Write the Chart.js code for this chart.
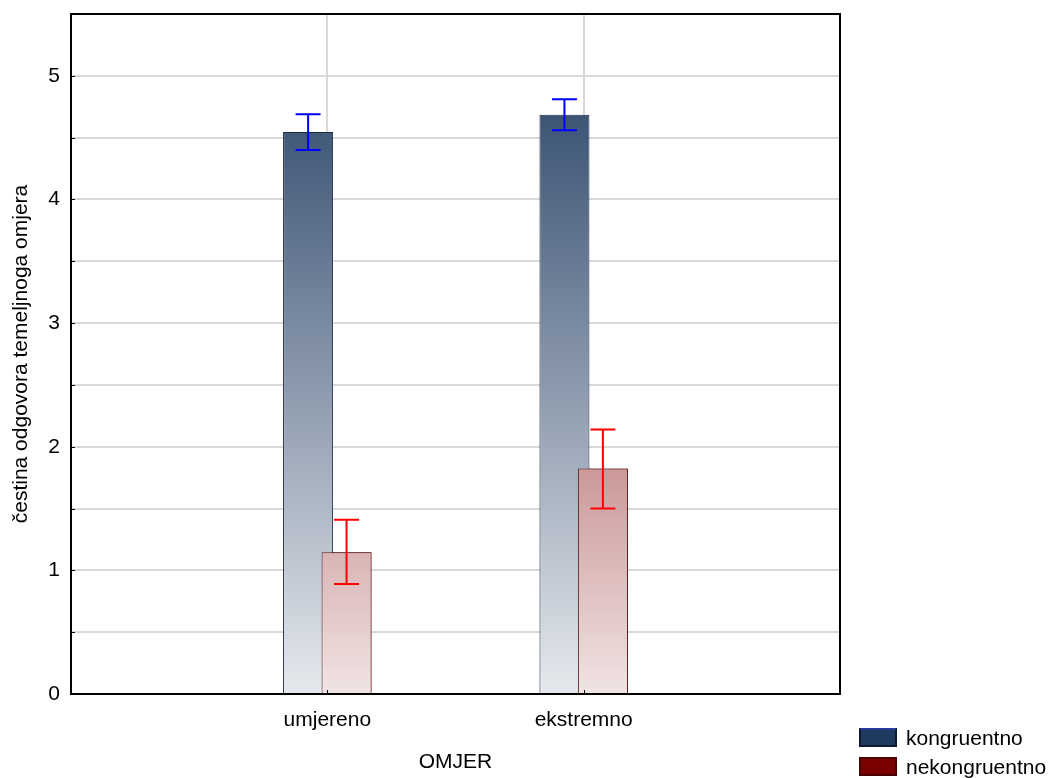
<!DOCTYPE html>
<html>
<head>
<meta charset="utf-8">
<script src="https://cdn.jsdelivr.net/npm/chart.js@4/dist/chart.umd.min.js"></script>
<style>
  html, body { margin: 0; padding: 0; background: #ffffff; }
  #wrap { position: relative; width: 1053px; height: 778px; overflow: hidden; }
  canvas { position: absolute; left: 0; top: 0; }
  .lg { position: absolute; font-family: "Liberation Sans", Arial, sans-serif; font-size: 21px; color: #000; line-height: 24px; white-space: nowrap; }
  .sw { position: absolute; box-sizing: border-box; width: 38px; height: 19px; }
</style>
</head>
<body>
<div id="wrap">
  <canvas id="c" width="1053" height="778"></canvas>
  <div class="sw" style="left:859px;top:728px;background:#1f3a5f;border:2px solid #0c1a33;border-top-color:#2a3a9a;"></div>
  <div class="lg" style="left:906px;top:726px;">kongruentno</div>
  <div class="sw" style="left:859px;top:757px;background:#7a0000;border:2px solid #4a0000;"></div>
  <div class="lg" style="left:906px;top:755px;">nekongruentno</div>
</div>
<script>
// ---- data ----
const categories = ['', 'umjereno', 'ekstremno', ''];
const seriesNames = ['kongruentno', 'nekongruentno'];
const kongruentno = [null, 4.545, 4.685, null];
const nekongruentno = [null, 1.146, 1.823, null];
const kongLow = [null, 4.40, 4.56, null];
const kongHigh = [null, 4.69, 4.81, null];
const nekLow = [null, 0.89, 1.50, null];
const nekHigh = [null, 1.41, 2.14, null];
const yTickLabels = ['0', '1', '2', '3', '4', '5'];
const xTitle = 'OMJER';
const yTitle = 'čestina odgovora temeljnoga omjera';

const FONT = '"Liberation Sans", Arial, sans-serif';

function grad(ctx, bottomRgb, topRgb) {
  const chart = ctx.chart;
  const a = chart.chartArea;
  if (!a) return 'rgb(' + topRgb.join(',') + ')';
  const g = chart.ctx.createLinearGradient(0, a.bottom, 0, a.top);
  g.addColorStop(0, 'rgb(' + bottomRgb.join(',') + ')');
  g.addColorStop(1, 'rgb(' + topRgb.join(',') + ')');
  return g;
}

const errorBarPlugin = {
  id: 'errbars',
  afterDatasetsDraw(chart) {
    const ctx = chart.ctx;
    // draw second series on top of the first (overlapping bars)
    const m1 = chart.getDatasetMeta(1);
    ctx.save();
    m1.controller.draw();
    ctx.restore();
    const y = chart.scales.y;
    const sets = [
      { meta: chart.getDatasetMeta(0), lo: kongLow, hi: kongHigh, color: '#0000ff' },
      { meta: chart.getDatasetMeta(1), lo: nekLow, hi: nekHigh, color: '#ff0000' }
    ];
    ctx.save();
    ctx.lineWidth = 2;
    sets.forEach(s => {
      ctx.strokeStyle = s.color;
      s.meta.data.forEach((el, i) => {
        if (s.lo[i] == null) return;
        const x = el.x;
        const hw = el.width / 4;
        const yl = y.getPixelForValue(s.lo[i]);
        const yh = y.getPixelForValue(s.hi[i]);
        ctx.beginPath();
        ctx.moveTo(x, yl); ctx.lineTo(x, yh);
        ctx.moveTo(x - hw, yl); ctx.lineTo(x + hw, yl);
        ctx.moveTo(x - hw, yh); ctx.lineTo(x + hw, yh);
        ctx.stroke();
      });
    });
    ctx.restore();
  },
  afterDraw(chart) {
    const ctx = chart.ctx;
    const a = chart.chartArea;
    ctx.save();
    ctx.strokeStyle = '#000';
    ctx.lineWidth = 2;
    ctx.strokeRect(a.left, a.top, a.right - a.left, a.bottom - a.top);
    ctx.lineWidth = 1;
    const y = chart.scales.y;
    y.ticks.forEach((t, i) => {
      const py = Math.round(y.getPixelForTick(i)) + 0.5;
      ctx.beginPath(); ctx.moveTo(a.left, py); ctx.lineTo(a.left + 4, py); ctx.stroke();
    });
    const x = chart.scales.x;
    [1, 2].forEach(i => {
      const px = Math.round(x.getPixelForTick(i)) + 0.5;
      ctx.beginPath(); ctx.moveTo(px, a.bottom); ctx.lineTo(px, a.bottom - 4); ctx.stroke();
    });
    ctx.restore();
  }
};

new Chart(document.getElementById('c'), {
  type: 'bar',
  data: {
    labels: categories,
    datasets: [
      {
        label: seriesNames[0],
        data: kongruentno,
        backgroundColor: (c) => grad(c, [230, 233, 237], [31, 58, 96]),
        borderColor: '#1a2740',
        borderWidth: 1,
        categoryPercentage: 0.3,
        barPercentage: 1.3
      },
      {
        label: seriesNames[1],
        data: nekongruentno,
        backgroundColor: (c) => grad(c, [241, 228, 228], [128, 0, 0]),
        borderColor: '#5c1a1a',
        borderWidth: 1,
        categoryPercentage: 0.3,
        barPercentage: 1.3
      }
    ]
  },
  options: {
    responsive: false,
    animation: false,
    devicePixelRatio: 1,
    layout: { padding: { left: 4, top: 14, right: 213, bottom: 3 } },
    plugins: {
      legend: { display: false },
      tooltip: { enabled: false }
    },
    scales: {
      x: {
        offset: false,
        grid: {
          offset: false,
          color: (c) => (c.index === 1 || c.index === 2) ? '#d9d9d9' : 'rgba(0,0,0,0)',
          lineWidth: 2,
          drawTicks: false
        },
        border: { display: true, color: '#000', width: 2 },
        ticks: { color: '#000', font: { family: FONT, size: 21 }, padding: 14, maxRotation: 0, autoSkip: false },
        title: { display: true, text: xTitle, color: '#000', font: { family: FONT, size: 21 }, padding: { top: 0, bottom: 0 } },
        afterFit: (s) => { s.height = 81; s.paddingLeft = 0; s.paddingRight = 0; }
      },
      y: {
        min: 0,
        max: 5.5,
        grid: { color: '#d9d9d9', lineWidth: 2, drawTicks: false },
        border: { display: true, color: '#000', width: 2 },
        ticks: {
          stepSize: 0.5,
          color: '#000',
          font: { family: FONT, size: 21 },
          padding: 11,
          autoSkip: false,
          callback: (v) => Number.isInteger(v) && yTickLabels.indexOf(String(v)) >= 0 ? String(v) : ''
        },
        title: { display: true, text: yTitle, color: '#000', font: { family: FONT, size: 21 }, padding: { top: 5, bottom: 0 } },
        afterFit: (s) => { s.width = 67; s.paddingTop = 0; s.paddingBottom = 0; }
      }
    }
  },
  plugins: [errorBarPlugin]
});
</script>
</body>
</html>
